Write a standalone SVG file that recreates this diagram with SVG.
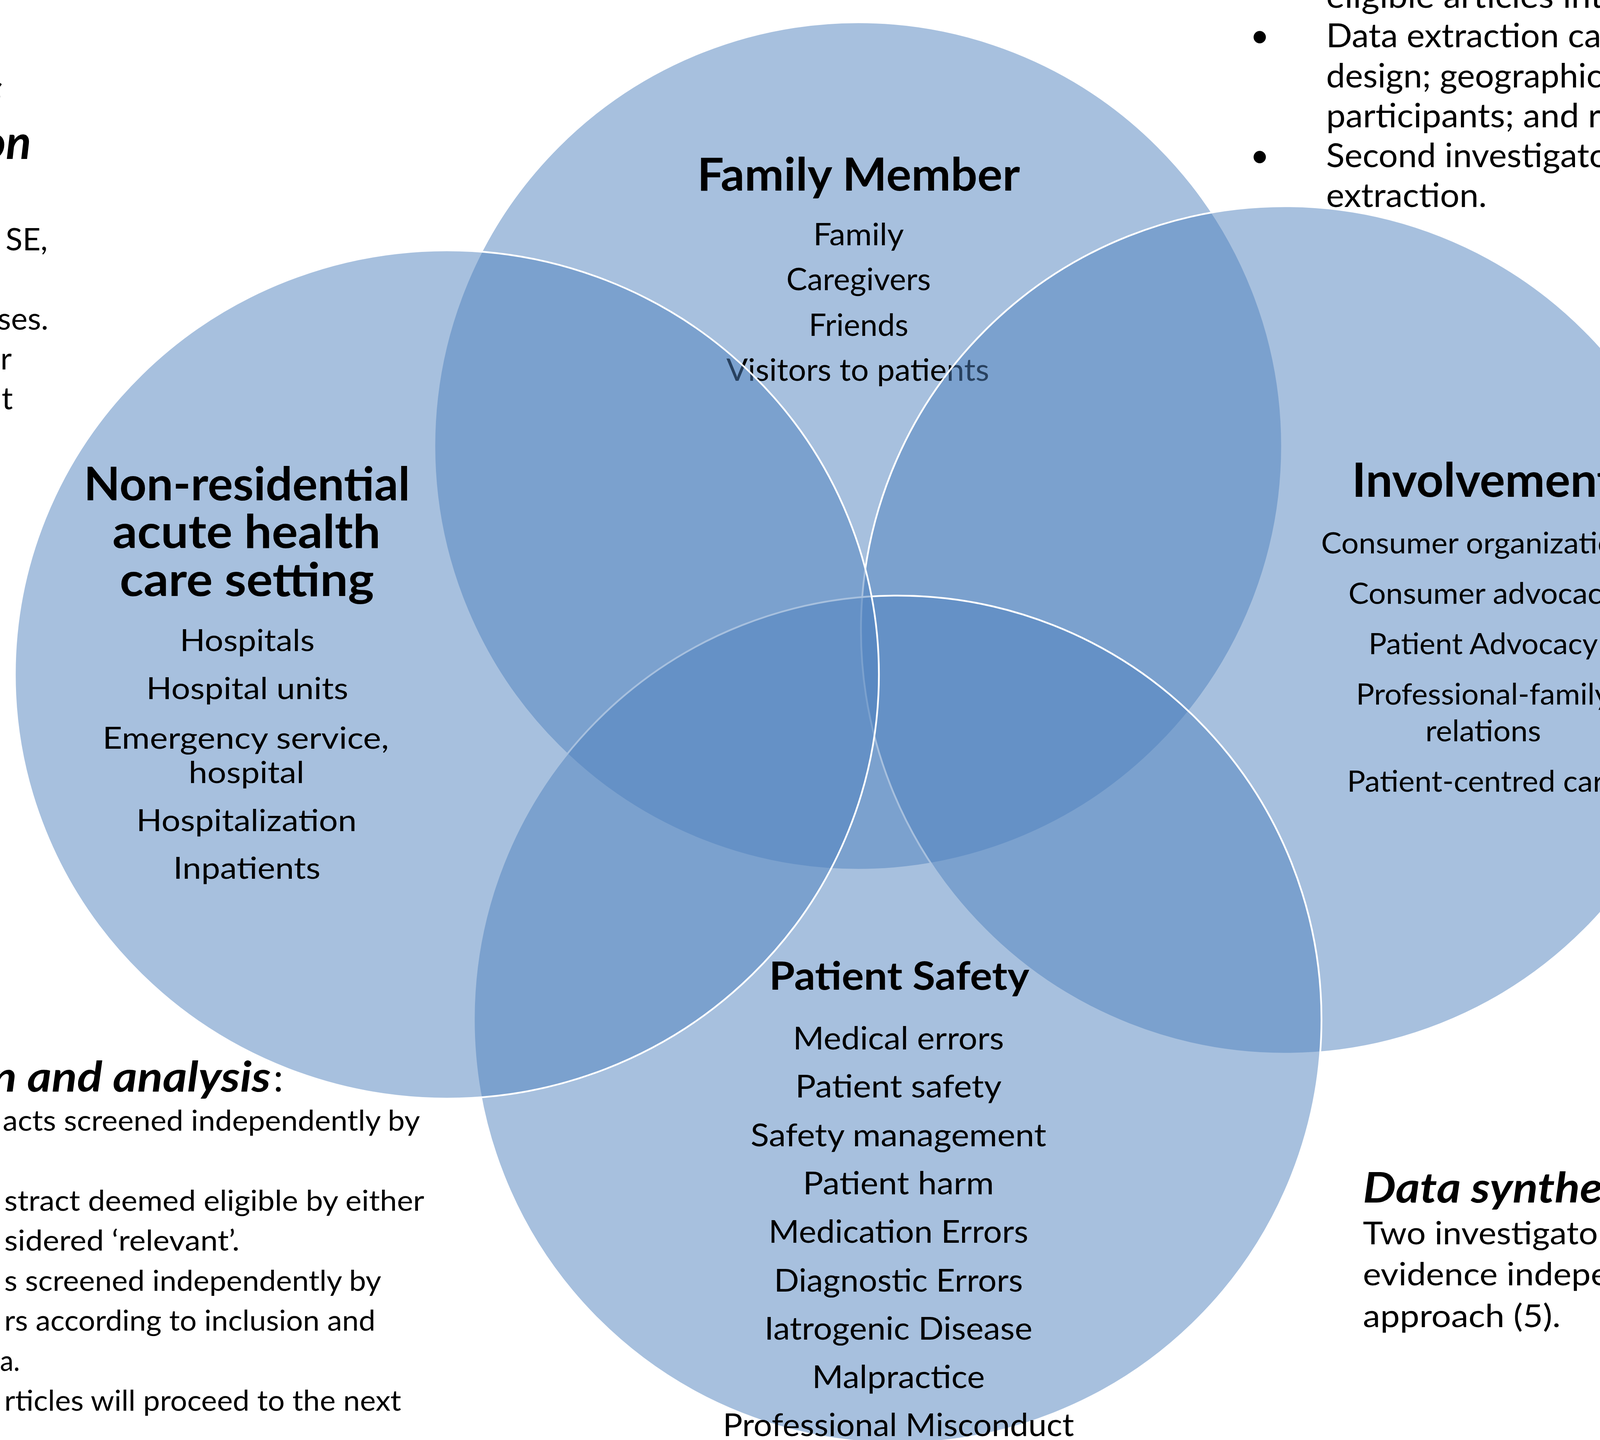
<svg xmlns="http://www.w3.org/2000/svg" width="4332" height="3687" viewBox="0 0 4332 3687">
<style>
.c{fill:#4F81BD;fill-opacity:0.5;stroke:#FFFFFF;stroke-width:4.5}
text{font-family:Lato,"Liberation Sans","DejaVu Sans",sans-serif;fill:#000}
.m{text-anchor:middle}
.b{font-weight:bold}
.bi{font-weight:bold;font-style:italic}
.e{text-anchor:end}
</style>
<rect x="0" y="0" width="4332" height="3687" fill="#FFFFFF"/>
<g id="text-left-top">
<text class="bi e" x="6" y="267" font-size="112">s</text>
<text class="bi e" x="80" y="407" font-size="120">on</text>
<text class="e" x="122" y="641" font-size="80">SE,</text>
<text class="e" x="124" y="844" font-size="80">ses.</text>
<text class="e" x="30" y="946" font-size="80">r</text>
<text class="e" x="33" y="1048" font-size="80">t</text>
</g>
<g id="text-top-right">
<text x="3395" y="20" font-size="85" textLength="912" lengthAdjust="spacingAndGlyphs">eligible articles into the</text>
<text class="m" x="3225" y="121" font-size="85">•</text>
<text x="3395" y="121" font-size="85" textLength="975" lengthAdjust="spacingAndGlyphs">Data extraction categorie</text>
<text x="3395" y="224" font-size="85" textLength="940" lengthAdjust="spacingAndGlyphs">design; geographic and h</text>
<text x="3395" y="326" font-size="85" textLength="927" lengthAdjust="spacingAndGlyphs">participants; and results</text>
<text class="m" x="3225" y="428" font-size="85">•</text>
<text x="3395" y="428" font-size="85" textLength="904" lengthAdjust="spacingAndGlyphs">Second investigator will</text>
<text x="3395" y="530" font-size="85" textLength="411" lengthAdjust="spacingAndGlyphs">extraction.</text>
</g>
<g id="node-family-member">
<circle class="c" cx="2197" cy="1142" r="1085"/>
<text class="m b" x="2198" y="488" font-size="116" textLength="826" lengthAdjust="spacingAndGlyphs">Family Member</text>
<text class="m" x="2198" y="628" font-size="80" textLength="232" lengthAdjust="spacingAndGlyphs">Family</text>
<text class="m" x="2198" y="743" font-size="80" textLength="370" lengthAdjust="spacingAndGlyphs">Caregivers</text>
<text class="m" x="2198" y="860" font-size="80" textLength="255" lengthAdjust="spacingAndGlyphs">Friends</text>
<text class="m" x="2196" y="975" font-size="80" textLength="673" lengthAdjust="spacingAndGlyphs">Visitors to patients</text>
</g>
<g id="node-involvement">
<circle class="c" cx="3289" cy="1613" r="1085"/>
<text class="m b" x="3797" y="1272" font-size="120" textLength="672" lengthAdjust="spacingAndGlyphs">Involvement</text>
<text class="m" x="3797" y="1417" font-size="76" textLength="830" lengthAdjust="spacingAndGlyphs">Consumer organizations</text>
<text class="m" x="3797" y="1546" font-size="76" textLength="690" lengthAdjust="spacingAndGlyphs">Consumer advocacy</text>
<text class="m" x="3797" y="1675" font-size="76" textLength="587" lengthAdjust="spacingAndGlyphs">Patient Advocacy</text>
<text class="m" x="3797" y="1804" font-size="76" textLength="651" lengthAdjust="spacingAndGlyphs">Professional-family</text>
<text class="m" x="3797" y="1898" font-size="76" textLength="296" lengthAdjust="spacingAndGlyphs">relations</text>
<text class="m" x="3797" y="2027" font-size="76" textLength="697" lengthAdjust="spacingAndGlyphs">Patient-centred care</text>
</g>
<g id="node-patient-safety">
<circle class="c" cx="2298" cy="2610" r="1085"/>
<text class="m b" x="2302" y="2534" font-size="100" textLength="666" lengthAdjust="spacingAndGlyphs">Patient Safety</text>
<text class="m" x="2300" y="2687" font-size="82" textLength="540" lengthAdjust="spacingAndGlyphs">Medical errors</text>
<text class="m" x="2300" y="2810" font-size="82" textLength="528" lengthAdjust="spacingAndGlyphs">Patient safety</text>
<text class="m" x="2300" y="2935" font-size="82" textLength="757" lengthAdjust="spacingAndGlyphs">Safety management</text>
<text class="m" x="2300" y="3058" font-size="82" textLength="489" lengthAdjust="spacingAndGlyphs">Patient harm</text>
<text class="m" x="2300" y="3182" font-size="82" textLength="665" lengthAdjust="spacingAndGlyphs">Medication Errors</text>
<text class="m" x="2300" y="3307" font-size="82" textLength="637" lengthAdjust="spacingAndGlyphs">Diagnostic Errors</text>
<text class="m" x="2300" y="3430" font-size="82" textLength="686" lengthAdjust="spacingAndGlyphs">Iatrogenic Disease</text>
<text class="m" x="2300" y="3554" font-size="82" textLength="442" lengthAdjust="spacingAndGlyphs">Malpractice</text>
<text class="m" x="2300" y="3677" font-size="82" textLength="899" lengthAdjust="spacingAndGlyphs">Professional Misconduct</text>
</g>
<g id="node-setting">
<ellipse class="c" cx="1144" cy="1727" rx="1106" ry="1086"/>
<text class="m b" x="632" y="1281" font-size="118" textLength="835" lengthAdjust="spacingAndGlyphs">Non-residential</text>
<text class="m b" x="631" y="1403" font-size="118" textLength="686" lengthAdjust="spacingAndGlyphs">acute health</text>
<text class="m b" x="632" y="1526" font-size="118" textLength="651" lengthAdjust="spacingAndGlyphs">care setting</text>
<text class="m" x="633" y="1667" font-size="78" textLength="345" lengthAdjust="spacingAndGlyphs">Hospitals</text>
<text class="m" x="633" y="1790" font-size="78" textLength="517" lengthAdjust="spacingAndGlyphs">Hospital units</text>
<text class="m" x="629" y="1917" font-size="78" textLength="733" lengthAdjust="spacingAndGlyphs">Emergency service,</text>
<text class="m" x="631" y="2005" font-size="78" textLength="296" lengthAdjust="spacingAndGlyphs">hospital</text>
<text class="m" x="631" y="2128" font-size="78" textLength="564" lengthAdjust="spacingAndGlyphs">Hospitalization</text>
<text class="m" x="632" y="2250" font-size="78" textLength="377" lengthAdjust="spacingAndGlyphs">Inpatients</text>
</g>
<g id="text-bottom-left">
<text class="bi" x="-22" y="2795" font-size="108" textLength="715" lengthAdjust="spacingAndGlyphs">n and analysis</text>
<text x="700" y="2795" font-size="100">:</text>
<text x="7" y="2895" font-size="74" textLength="1068" lengthAdjust="spacingAndGlyphs">acts screened independently by</text>
<text x="11" y="3100" font-size="74" textLength="1075" lengthAdjust="spacingAndGlyphs">stract deemed eligible by either</text>
<text x="11" y="3202" font-size="74" textLength="602" lengthAdjust="spacingAndGlyphs">sidered ‘relevant’.</text>
<text x="11" y="3305" font-size="74" textLength="965" lengthAdjust="spacingAndGlyphs">s screened independently by</text>
<text x="11" y="3407" font-size="74" textLength="950" lengthAdjust="spacingAndGlyphs">rs according to inclusion and</text>
<text x="0" y="3510" font-size="74" textLength="51" lengthAdjust="spacingAndGlyphs">a.</text>
<text x="11" y="3612" font-size="74" textLength="1016" lengthAdjust="spacingAndGlyphs">rticles will proceed to the next</text>
</g>
<g id="text-data-synthesis">
<text class="bi" x="3489" y="3079" font-size="107" textLength="771" lengthAdjust="spacingAndGlyphs">Data synthesis:</text>
<text x="3489" y="3186" font-size="82" textLength="822" lengthAdjust="spacingAndGlyphs">Two investigators will</text>
<text x="3489" y="3291" font-size="82" textLength="855" lengthAdjust="spacingAndGlyphs">evidence independent</text>
<text x="3489" y="3398" font-size="82" textLength="506" lengthAdjust="spacingAndGlyphs">approach (5).</text>
</g>
</svg>
